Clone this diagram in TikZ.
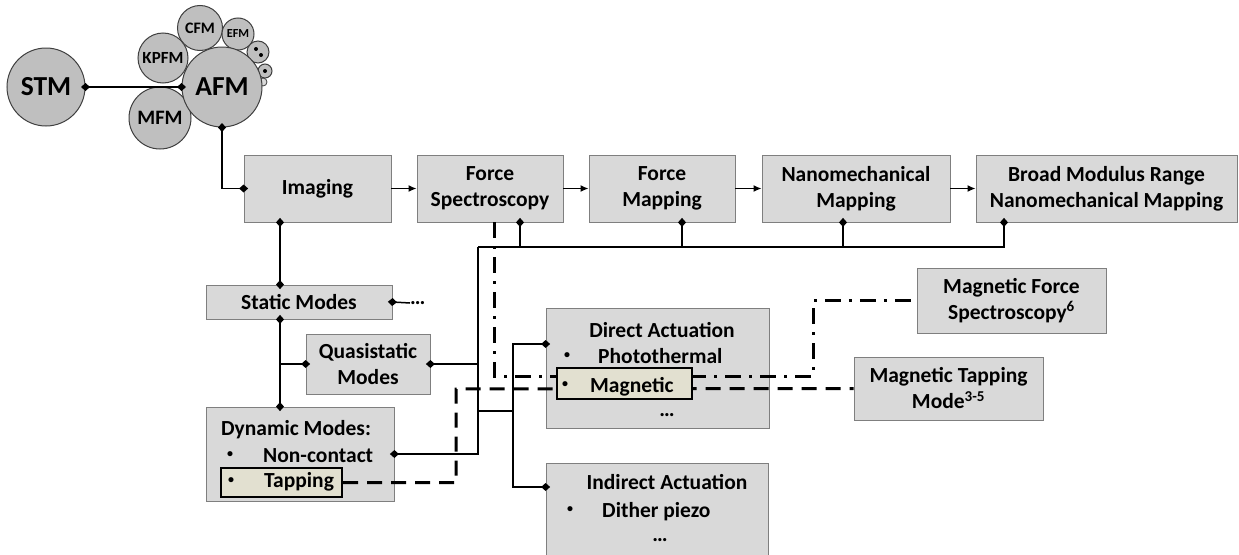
\documentclass[tikz,border=0pt]{standalone}
\usepackage{fontspec}
\setmainfont{Carlito}
\usetikzlibrary{arrows.meta}

\definecolor{boxfill}{HTML}{D9D9D9}
\definecolor{boxline}{HTML}{7F7F7F}
\definecolor{bubblefill}{HTML}{BFBFBF}
\definecolor{bubbleline}{HTML}{3F3F3F}
\definecolor{hilitefill}{HTML}{E2E0D0}

\newcommand{\diagfont}{\fontsize{21.5pt}{26pt}\selectfont\bfseries}

\begin{document}
\begin{tikzpicture}[x=1pt, y=-1pt,
	box/.style={draw=boxline, fill=boxfill, line width=0.8pt, inner sep=0pt, align=center, font=\diagfont},
	bubble/.style={circle, draw=bubbleline, fill=bubblefill, line width=1pt, inner sep=0pt},
	hilite/.style={draw=black, line width=2pt, fill=hilitefill, inner sep=0pt},
	txt/.style={inner sep=0pt, font=\diagfont},
	listdot/.style={inner sep=0pt, font=\fontsize{12pt}{12pt}\selectfont\bfseries},
	link/.style={line width=1.5pt},
	dboth/.style={link, {Diamond[length=9pt, width=8pt]}-{Diamond[length=9pt, width=8pt]}, shorten <=-4.5pt, shorten >=-4.5pt},
	dstart/.style={link, {Diamond[length=9pt, width=8pt]}-, shorten <=-4.5pt},
	dend/.style={link, -{Diamond[length=9pt, width=8pt]}, shorten >=-4.5pt},
	flow/.style={link, -{Latex[length=8pt, width=7pt]}},
	tapline/.style={line width=3pt, dash pattern=on 15pt off 9pt},
	mfsline/.style={line width=3pt, dash pattern=on 16pt off 8pt on 3pt off 8pt},
]
	\useasboundingbox (0,0) rectangle (1239,554);

	\coordinate (trunk) at (280,0);
	\coordinate (bus) at (478,247);
	\coordinate (split) at (513,411);
	\coordinate (tapbend) at (456,389);
	\coordinate (mfsbend) at (813,376);

	\draw[draw=bubbleline, fill=bubblefill, line width=1pt] (258,52) circle (11pt);
	\fill (256,49) circle (2pt);
	\fill (261,55) circle (2pt);
	\draw[draw=bubbleline, fill=bubblefill, line width=1pt] (265,71) circle (7pt);
	\fill (265,71) circle (2pt);
	\draw[draw=bubbleline, fill=boxfill, line width=0.8pt] (263,82) circle (4pt);
	\node[bubble, minimum size=50pt, font=\fontsize{17pt}{20pt}\selectfont\bfseries] (kpfm) at (163,58) {KPFM};
	\node[bubble, minimum size=45pt, font=\fontsize{16pt}{19pt}\selectfont\bfseries] (cfm) at (200,28) {CFM};
	\node[bubble, minimum size=32pt, font=\fontsize{12.3pt}{15pt}\selectfont\bfseries] (efm) at (238,34) {EFM};
	\node[bubble, minimum size=62pt, font=\fontsize{20.5pt}{24pt}\selectfont\bfseries] (mfm) at (160,118) {MFM};
	\node[bubble, minimum size=78pt, font=\fontsize{27.5pt}{32pt}\selectfont\bfseries] (stm) at (46,87) {STM};
	\node[bubble, minimum size=80pt, font=\fontsize{27.5pt}{32pt}\selectfont\bfseries] (afm) at (222,87) {AFM};

	\node[box, minimum width=147pt, minimum height=67pt] (imaging) at (317.5,188.5) {Imaging};
	\node[box, minimum width=146pt, minimum height=67pt] (forcespec) at (490,188.5) {Force\\Spectroscopy};
	\node[box, minimum width=146pt, minimum height=67pt] (forcemap) at (662,188.5) {Force\\Mapping};
	\node[box, minimum width=188pt, minimum height=67pt] (nanomap) at (856,188.5) {Nanomechanical\\Mapping};
	\node[box, minimum width=261pt, minimum height=67pt] (broadmap) at (1106.5,188.5) {Broad Modulus Range\\Nanomechanical Mapping};
	\node[box, minimum width=186pt, minimum height=34pt] (static) at (299,302) {Static Modes};
	\node[box, minimum width=124pt, minimum height=60pt] (quasi) at (368,364) {Quasistatic\\Modes};
	\node[box, minimum width=188pt, minimum height=94pt] (dynamic) at (300,454) {};
	\node[box, minimum width=223pt, minimum height=120pt] (direct) at (657.5,368) {};
	\node[box, minimum width=222pt, minimum height=96pt] (indirect) at (657,511) {};
	\node[box, minimum width=189pt, minimum height=65pt] (mfs) at (1011.5,300.5) {Magnetic Force\\Spectroscopy\textsuperscript{6}};
	\node[box, minimum width=189pt, minimum height=63pt] (mtap) at (948.5,388.5) {Magnetic Tapping\\Mode\textsuperscript{3-5}};
	\node[txt, anchor=west] (sdots) at (410,303) {…};

	\draw[dboth] (stm) -- (afm);
	\draw[dboth] (afm.south) |- (imaging.west);
	\draw[flow] (imaging) -- (forcespec);
	\draw[flow] (forcespec) -- (forcemap);
	\draw[flow] (forcemap) -- (nanomap);
	\draw[flow] (nanomap) -- (broadmap);

	\draw[dboth] (imaging.south -| trunk) -- (static.north -| trunk);
	\draw[dboth] (static.south -| trunk) -- (dynamic.north -| trunk);
	\draw[dend] (quasi.west -| trunk) -- (quasi.west);
	\draw[dstart] (static.east) -- (sdots.west);
	\draw[dstart] (quasi.east) -- (quasi.east -| bus);

	\draw[dstart] ([xshift=30pt]forcespec.south) |- (bus);
	\draw[dstart] ([xshift=-102.5pt]broadmap.south) |- (bus);
	\draw[dstart] ([xshift=20pt]forcemap.south) -- ([xshift=20pt]forcemap.south |- bus);
	\draw[dstart] ([xshift=-13pt]nanomap.south) -- ([xshift=-13pt]nanomap.south |- bus);
	\draw[dend] (bus) |- (dynamic.east);
	\draw[link] (bus |- split) -- (split);
	\draw[dend] (split) |- ([yshift=24pt]direct.west);
	\draw[dend] (split) |- ([yshift=24pt]indirect.west);

	\node[hilite, minimum width=121pt, minimum height=29pt] (tapbox) at (281.5,482.5) {};
	\draw[tapline] (tapbox.east) -| (tapbend) -- (mtap.west);
	\draw[mfsline] ([xshift=4pt]forcespec.south) |- (mfsbend) |- (mfs.west);
	\node[hilite, minimum width=135pt, minimum height=31pt] (magbox) at (624.5,383.5) {};

	\node[txt, anchor=base west] (dyntitle) at (221,435) {Dynamic Modes:};
	\node[listdot] (dynbullet1) at (230,455) {\textbullet};
	\node[txt, anchor=base west] (noncontact) at (263,462) {Non-contact};
	\node[listdot] (dynbullet2) at (231,481) {\textbullet};
	\node[txt, anchor=base west] (tapping) at (264,487) {Tapping};

	\node[txt, anchor=base] (directtitle) at (662,337) {Direct Actuation};
	\node[listdot] (dirbullet1) at (567,356) {\textbullet};
	\node[txt, anchor=base west] (photo) at (598,363) {Photothermal};
	\node[listdot] (dirbullet2) at (565,385) {\textbullet};
	\node[txt, anchor=base west] (magnetic) at (590,392) {Magnetic};
	\node[txt, anchor=base] (dirdots) at (667,416) {…};

	\node[txt, anchor=base] (indirecttitle) at (667,489) {Indirect Actuation};
	\node[listdot] (indbullet) at (570,510) {\textbullet};
	\node[txt, anchor=base west] (dither) at (602,517) {Dither piezo};
	\node[txt, anchor=base] (inddots) at (660,541) {…};
\end{tikzpicture}
\end{document}
